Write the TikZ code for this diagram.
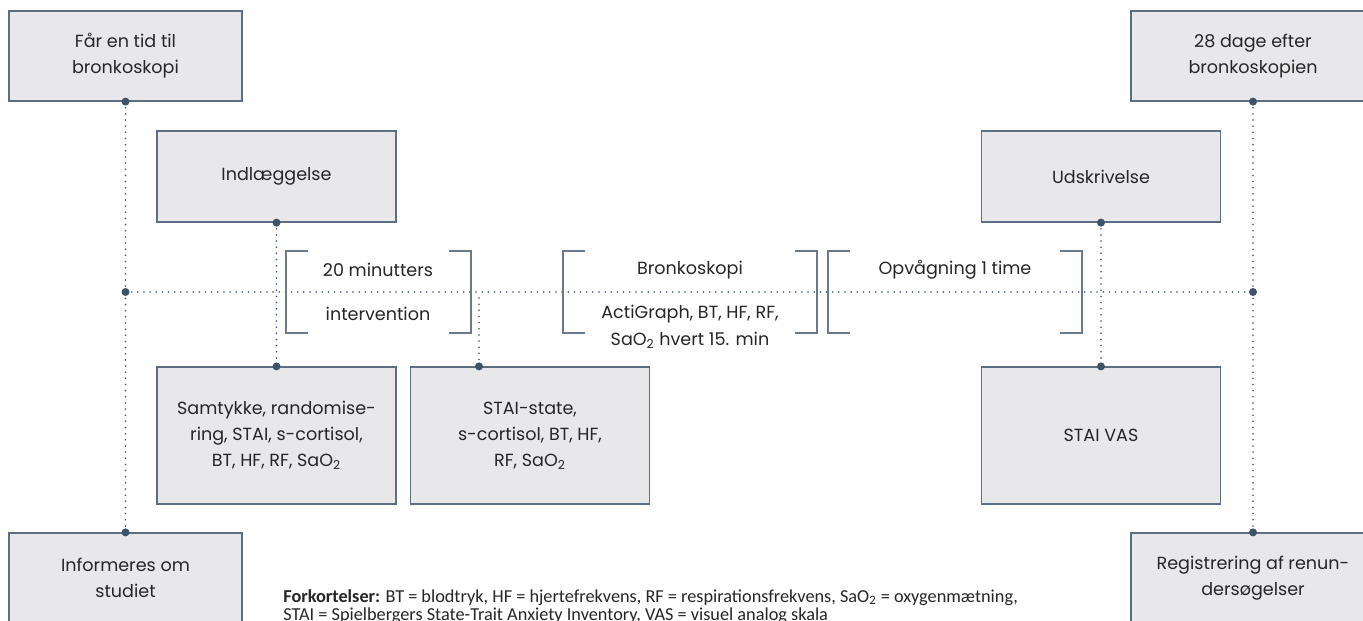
\documentclass[tikz,border=0pt]{standalone}
\usepackage{fontspec}
\setmainfont{Poppins}
\newfontfamily\notefont{Carlito}
\usetikzlibrary{positioning}

\definecolor{boxfill}{HTML}{E8E8EB}
\definecolor{boxline}{HTML}{5B6E84}
\definecolor{dotcol}{HTML}{3F5368}
\definecolor{brkcol}{HTML}{6A7A8C}
\definecolor{txt}{HTML}{262626}

\tikzset{
  stepbox/.style={draw=boxline, fill=boxfill, line width=0.7pt, align=center,
    text=txt, font=\fontsize{10}{14.8}\selectfont, inner sep=0pt},
  endbox/.style={stepbox, minimum width=4.66cm, minimum height=1.8cm},
  midbox/.style={stepbox, minimum width=4.78cm, minimum height=1.82cm},
  tallbox/.style={stepbox, minimum width=4.78cm, minimum height=2.74cm},
  dotline/.style={draw=dotcol, line width=1pt, line cap=round, dash pattern=on 0pt off 3.5pt},
  bigdot/.style={fill=dotcol},
  brk/.style={draw=brkcol, line width=0.95pt},
  brktext/.style={text=txt, font=\fontsize{10}{14.8}\selectfont, inner sep=0pt}
}

\begin{document}
\begin{tikzpicture}[x=0.02cm, y=-0.02cm]
\clip (0,0) rectangle (1363,621);
\fill[white] (0,0) rectangle (1363,621);

% boxes
\node[endbox] (fartid) at (125.5,56) {Får en tid til\\bronkoskopi};
\node[endbox] (informeres) at (125.5,578) {Informeres om\\studiet};
\node[endbox, minimum width=4.88cm] (dage28) at (1253,56) {28 dage efter\\bronkoskopien};
\node[endbox, minimum width=4.88cm] (registrering) at (1253,578) {Registrering af renun-\\dersøgelser};
\node[midbox] (indl) at (276.5,176.5) {Indlæggelse};
\node[midbox] (udskriv) at (1101,176.5) {Udskrivelse};
\node[tallbox] (samtykke) at (276.5,435.5) {Samtykke, randomise-\\ring, STAI, s-cortisol,\\BT, HF, RF, SaO\textsubscript{2}};
\node[tallbox] (stai) at (530,435.5) {STAI-state,\\s-cortisol, BT, HF,\\RF, SaO\textsubscript{2}};
\node[tallbox] (staivas) at (1101,435.5) {STAI VAS};

% time line
\coordinate (tl) at (fartid.south |- 0,292);
\coordinate (tr) at (dage28.south |- 0,292);
\coordinate (brkend) at (479,298);
\draw[dotline] (fartid.south) -- (informeres.north);
\draw[dotline] (dage28.south) -- (registrering.north);
\draw[dotline] (tl) -- (tr);
\draw[dotline] (indl.south) -- (samtykke.north);
\draw[dotline] (udskriv.south) -- (staivas.north);
\draw[dotline] (brkend) -- (brkend |- stai.north);

\foreach \p in {fartid.south, informeres.north, dage28.south, registrering.north,
  indl.south, samtykke.north, udskriv.south, staivas.north, tl, tr}
  \fill[bigdot] (\p) circle (4);
\fill[bigdot] (brkend |- stai.north) circle (4);

% brackets
\foreach \a/\b in {286/471, 563/817, 828/1082}{
  \draw[brk] (\a+22,251) -- (\a,251) -- (\a,333) -- (\a+22,333);
  \draw[brk] (\b-22,251) -- (\b,251) -- (\b,333) -- (\b-22,333);
}
\node[brktext] (min20) at (378,270) {20 minutters};
\node[brktext] (interv) at (378,314) {intervention};
\node[brktext] (bronk) at (690,270) {Bronkoskopi};
\node[brktext] (acti) at (690,314) {ActiGraph, BT, HF, RF,};
\node[brktext] (sao) at (690,340) {SaO\textsubscript{2} hvert 15. min};
\node[brktext] (opv) at (955,270) {Opvågning 1 time};

% footnote
\node[anchor=north west, inner sep=0pt, align=left, text=txt,
  font=\notefont\fontsize{10.4}{10.4}\selectfont] (note) at (283,589)
  {\textbf{Forkortelser:} BT = blodtryk, HF = hjertefrekvens, RF = respirationsfrekvens, SaO\textsubscript{2} = oxygenmætning,\\
   STAI = Spielbergers State-Trait Anxiety Inventory, VAS = visuel analog skala};
\end{tikzpicture}
\end{document}
